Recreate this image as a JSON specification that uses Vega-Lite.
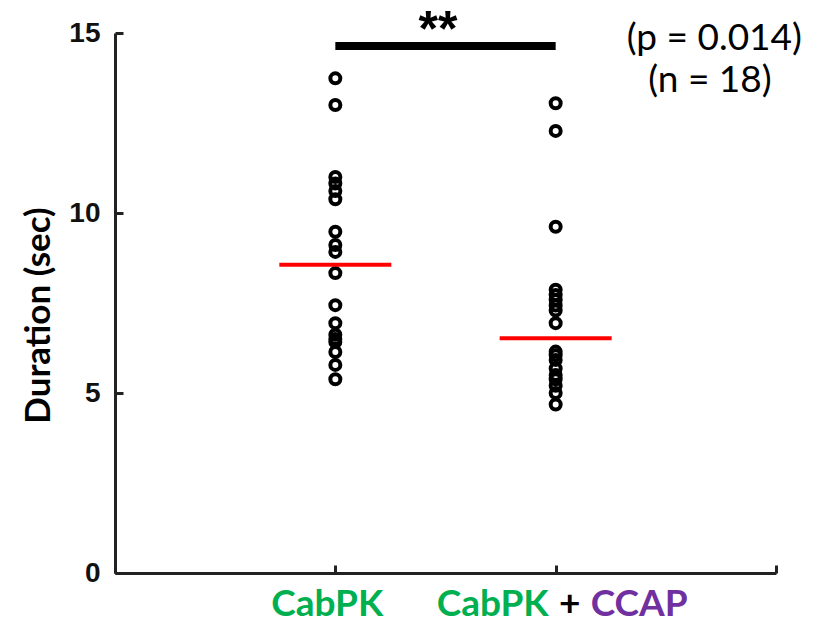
{
  "$schema": "https://vega.github.io/schema/vega-lite/v6.json",
  "width": 661,
  "height": 540,
  "autosize": "none",
  "padding": {"left": 115, "top": 33, "right": 51, "bottom": 50},
  "background": "white",
  "config": {
    "view": {"stroke": null},
    "axis": {
      "domainColor": "#222222",
      "domainWidth": 3,
      "tickColor": "#222222",
      "tickWidth": 3,
      "tickSize": -8,
      "grid": false
    }
  },
  "datasets": {
    "durations": [
      {"group_id": 1, "condition": "CabPK", "duration": 13.74},
      {"group_id": 1, "condition": "CabPK", "duration": 13.0},
      {"group_id": 1, "condition": "CabPK", "duration": 11.0},
      {"group_id": 1, "condition": "CabPK", "duration": 10.82},
      {"group_id": 1, "condition": "CabPK", "duration": 10.61},
      {"group_id": 1, "condition": "CabPK", "duration": 10.38},
      {"group_id": 1, "condition": "CabPK", "duration": 9.48},
      {"group_id": 1, "condition": "CabPK", "duration": 9.11},
      {"group_id": 1, "condition": "CabPK", "duration": 8.92},
      {"group_id": 1, "condition": "CabPK", "duration": 8.33},
      {"group_id": 1, "condition": "CabPK", "duration": 7.44},
      {"group_id": 1, "condition": "CabPK", "duration": 6.94},
      {"group_id": 1, "condition": "CabPK", "duration": 6.62},
      {"group_id": 1, "condition": "CabPK", "duration": 6.5},
      {"group_id": 1, "condition": "CabPK", "duration": 6.42},
      {"group_id": 1, "condition": "CabPK", "duration": 6.14},
      {"group_id": 1, "condition": "CabPK", "duration": 5.78},
      {"group_id": 1, "condition": "CabPK", "duration": 5.38},
      {"group_id": 2, "condition": "CabPK + CCAP", "duration": 13.05},
      {"group_id": 2, "condition": "CabPK + CCAP", "duration": 12.28},
      {"group_id": 2, "condition": "CabPK + CCAP", "duration": 9.62},
      {"group_id": 2, "condition": "CabPK + CCAP", "duration": 7.87},
      {"group_id": 2, "condition": "CabPK + CCAP", "duration": 7.72},
      {"group_id": 2, "condition": "CabPK + CCAP", "duration": 7.58},
      {"group_id": 2, "condition": "CabPK + CCAP", "duration": 7.43},
      {"group_id": 2, "condition": "CabPK + CCAP", "duration": 7.29},
      {"group_id": 2, "condition": "CabPK + CCAP", "duration": 6.94},
      {"group_id": 2, "condition": "CabPK + CCAP", "duration": 6.15},
      {"group_id": 2, "condition": "CabPK + CCAP", "duration": 6.05},
      {"group_id": 2, "condition": "CabPK + CCAP", "duration": 5.92},
      {"group_id": 2, "condition": "CabPK + CCAP", "duration": 5.68},
      {"group_id": 2, "condition": "CabPK + CCAP", "duration": 5.5},
      {"group_id": 2, "condition": "CabPK + CCAP", "duration": 5.38},
      {"group_id": 2, "condition": "CabPK + CCAP", "duration": 5.2},
      {"group_id": 2, "condition": "CabPK + CCAP", "duration": 5.0},
      {"group_id": 2, "condition": "CabPK + CCAP", "duration": 4.68}
    ],
    "medians": [
      {"group_id": 1, "median": 8.56},
      {"group_id": 2, "median": 6.52}
    ],
    "significance": [
      {"from": 1, "to": 2, "level": 14.64, "stars": "**"}
    ],
    "stats": [
      {"pos": 2.72, "level": 14.53, "text": "(p = 0.014)"},
      {"pos": 2.70, "level": 13.36, "text": "(n = 18)"}
    ],
    "group_labels": [
      {"group_id": 1, "part": "CabPK", "piece": "first"},
      {"group_id": 2, "part": "CabPK", "piece": "driver"},
      {"group_id": 2, "part": "+", "piece": "join"},
      {"group_id": 2, "part": "CCAP", "piece": "peptide"}
    ]
  },
  "layer": [
    {
      "data": {"name": "durations"},
      "mark": {"type": "point", "shape": "circle", "filled": false, "stroke": "black", "strokeWidth": 4, "size": 100, "opacity": 1},
      "encoding": {
        "x": {
          "field": "group_id", "type": "quantitative",
          "scale": {"domain": [0, 3], "nice": false, "zero": false},
          "axis": {"values": [0, 1, 2, 3], "labels": false, "title": null}
        },
        "y": {
          "field": "duration", "type": "quantitative",
          "scale": {"domain": [0, 15], "nice": false},
          "axis": {
            "values": [0, 5, 10, 15],
            "title": "Duration (sec)",
            "titleFont": "Lato", "titleFontWeight": "bold", "titleFontSize": 35, "titleColor": "black",
            "titleAngle": 270, "titleAlign": "center", "titleBaseline": "middle",
            "titleX": -77, "titleY": 282,
            "labelFont": "Liberation Sans", "labelFontWeight": "bold", "labelFontSize": 28, "labelColor": "#111111",
            "labelPadding": 23
          }
        }
      }
    },
    {
      "data": {"name": "medians"},
      "mark": {"type": "tick", "orient": "horizontal", "color": "#FF0000", "thickness": 4, "size": 112, "opacity": 1},
      "encoding": {
        "x": {"field": "group_id", "type": "quantitative"},
        "y": {"field": "median", "type": "quantitative"}
      }
    },
    {
      "data": {"name": "significance"},
      "mark": {"type": "rule", "color": "black", "strokeWidth": 8},
      "encoding": {
        "x": {"field": "from", "type": "quantitative"},
        "x2": {"field": "to"},
        "y": {"field": "level", "type": "quantitative"}
      }
    },
    {
      "data": {"name": "significance"},
      "mark": {"type": "text", "font": "Liberation Sans", "fontWeight": "bold", "fontSize": 50, "align": "center", "baseline": "alphabetic", "dy": 0, "color": "black"},
      "encoding": {
        "x": {"value": 323},
        "y": {"field": "level", "type": "quantitative"},
        "text": {"field": "stars"}
      }
    },
    {
      "data": {"name": "stats"},
      "mark": {"type": "text", "font": "Lato", "fontSize": 37, "align": "center", "baseline": "alphabetic", "color": "black"},
      "encoding": {
        "x": {"field": "pos", "type": "quantitative"},
        "y": {"field": "level", "type": "quantitative"},
        "text": {"field": "text"}
      }
    },
    {
      "data": {"name": "group_labels"},
      "transform": [{"filter": "datum.piece === 'first'"}],
      "mark": {"type": "text", "font": "Lato", "fontWeight": "bold", "fontSize": 37, "align": "center", "baseline": "alphabetic", "dy": 43, "dx": -8, "color": "#00B050"},
      "encoding": {
        "x": {"field": "group_id", "type": "quantitative"},
        "y": {"datum": 0},
        "text": {"field": "part"}
      }
    },
    {
      "data": {"name": "group_labels"},
      "transform": [{"filter": "datum.piece === 'driver'"}],
      "mark": {"type": "text", "font": "Lato", "fontWeight": "bold", "fontSize": 37, "align": "right", "baseline": "alphabetic", "dy": 43, "dx": -7, "color": "#00B050"},
      "encoding": {
        "x": {"field": "group_id", "type": "quantitative"},
        "y": {"datum": 0},
        "text": {"field": "part"}
      }
    },
    {
      "data": {"name": "group_labels"},
      "transform": [{"filter": "datum.piece === 'join'"}],
      "mark": {"type": "text", "font": "Lato", "fontWeight": "bold", "fontSize": 37, "align": "center", "baseline": "alphabetic", "dy": 43, "dx": 14, "color": "black"},
      "encoding": {
        "x": {"field": "group_id", "type": "quantitative"},
        "y": {"datum": 0},
        "text": {"field": "part"}
      }
    },
    {
      "data": {"name": "group_labels"},
      "transform": [{"filter": "datum.piece === 'peptide'"}],
      "mark": {"type": "text", "font": "Lato", "fontWeight": "bold", "fontSize": 37, "align": "left", "baseline": "alphabetic", "dy": 43, "dx": 35, "color": "#7030A0"},
      "encoding": {
        "x": {"field": "group_id", "type": "quantitative"},
        "y": {"datum": 0},
        "text": {"field": "part"}
      }
    }
  ]
}
